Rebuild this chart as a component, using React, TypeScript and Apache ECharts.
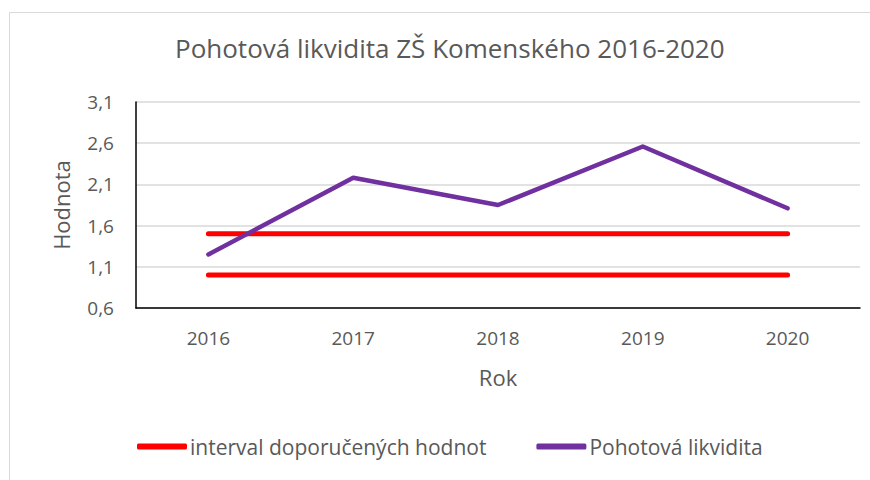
import React, { useEffect, useRef } from "react";
import * as echarts from "echarts";

const years = ["2016", "2017", "2018", "2019", "2020"];
const intervalUpper = [1.5, 1.5, 1.5, 1.5, 1.5];
const intervalLower = [1.0, 1.0, 1.0, 1.0, 1.0];
const quickRatio = [1.25, 2.18, 1.85, 2.56, 1.81];
const yTicks = [0.6, 1.1, 1.6, 2.1, 2.6, 3.1];

const FONT = "Open Sans";
const TXT = "#595959";

export default function App() {
  const ref = useRef<HTMLDivElement>(null);
  useEffect(() => {
    const chart = echarts.init(ref.current!, null, { renderer: "svg" });
    chart.setOption({
      animation: false,
      textStyle: { fontFamily: FONT },
      graphic: [
        {
          type: "rect",
          shape: { x: 9.5, y: 12.5, width: 900, height: 500 },
          style: { fill: "none", stroke: "#d9d9d9", lineWidth: 1 },
          silent: true,
        },
      ],
      title: {
        text: "Pohotová likvidita ZŠ Komenského 2016-2020",
        left: 170,
        top: 30,
        textStyle: { fontFamily: FONT, fontSize: 26, fontWeight: "normal", color: TXT },
      },
      grid: { left: 136, right: 10, top: 102, bottom: 172 },
      legend: {
        bottom: 18,
        left: 132,
        itemWidth: 50,
        itemHeight: 6,
        itemGap: 50,
        icon: "roundRect",
        textStyle: { fontFamily: FONT, fontSize: 21, color: TXT, padding: [0, 0, 0, -2] },
        data: [
          { name: "interval doporučených hodnot", itemStyle: { color: "#ff0000" } },
          { name: "Pohotová likvidita", itemStyle: { color: "#7030a0" } },
        ],
      },
      xAxis: {
        type: "category",
        data: years,
        boundaryGap: true,
        name: "Rok",
        nameLocation: "middle",
        nameGap: 58,
        nameTextStyle: { fontFamily: FONT, fontSize: 22, color: TXT },
        axisLine: { lineStyle: { color: "#000", width: 1.5 } },
        axisTick: { show: false },
        axisLabel: { fontFamily: FONT, fontSize: 19, color: TXT, margin: 20 },
      },
      yAxis: {
        type: "value",
        min: yTicks[0],
        max: yTicks[yTicks.length - 1],
        interval: 0.5,
        name: "Hodnota",
        nameLocation: "middle",
        nameGap: 64,
        nameTextStyle: { fontFamily: FONT, fontSize: 22, color: TXT },
        axisLine: { show: true, lineStyle: { color: "#000", width: 1.5 } },
        axisTick: { show: false },
        splitLine: { lineStyle: { color: "#d9d9d9", width: 1.5 } },
        axisLabel: {
          fontFamily: FONT,
          fontSize: 19,
          color: TXT,
          margin: 22,
          formatter: (v: number) => v.toFixed(1).replace(".", ","),
        },
      },
      series: [
        {
          name: "interval doporučených hodnot",
          type: "line",
          data: intervalUpper,
          symbol: "none",
          color: "#ff0000",
          lineStyle: { color: "#ff0000", width: 5, cap: "round" },
        },
        {
          name: "interval doporučených hodnot",
          type: "line",
          data: intervalLower,
          symbol: "none",
          color: "#ff0000",
          lineStyle: { color: "#ff0000", width: 5, cap: "round" },
        },
        {
          name: "Pohotová likvidita",
          type: "line",
          data: quickRatio,
          symbol: "none",
          color: "#7030a0",
          lineStyle: { color: "#7030a0", width: 4.5, cap: "round", join: "round" },
        },
      ],
    });
    return () => chart.dispose();
  }, []);
  return <div ref={ref} style={{ width: 870, height: 480, position: "absolute", left: 0, top: 0, background: "#fff" }} />;
}
